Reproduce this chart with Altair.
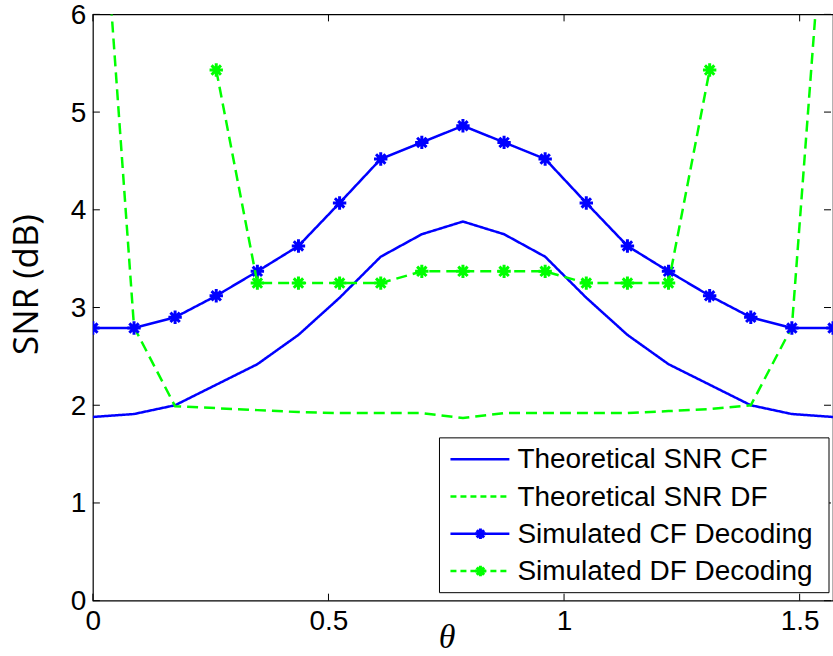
import altair as alt
import pandas as pd

# ---- data ----
theta = [0.0000, 0.0873, 0.1745, 0.2618, 0.3491, 0.4363, 0.5236, 0.6109, 0.6981, 0.7854,
         0.8727, 0.9599, 1.0472, 1.1345, 1.2217, 1.3090, 1.3963, 1.4835, 1.5708]

theory_cf = [1.88, 1.91, 2.00, 2.21, 2.42, 2.72, 3.10, 3.52, 3.75, 3.88,
             3.75, 3.52, 3.10, 2.72, 2.42, 2.21, 2.00, 1.91, 1.88]
theory_df = [8.70, 2.80, 1.99, 1.97, 1.95, 1.93, 1.92, 1.92, 1.92, 1.87,
             1.92, 1.92, 1.92, 1.92, 1.94, 1.96, 2.00, 2.80, 8.40]
sim_cf = [2.79, 2.79, 2.90, 3.12, 3.37, 3.63, 4.07, 4.52, 4.69, 4.86,
          4.69, 4.52, 4.07, 3.63, 3.37, 3.12, 2.90, 2.79, 2.79]
sim_df = [None, None, None, 5.43, 3.25, 3.25, 3.25, 3.25, 3.37, 3.37,
          3.37, 3.37, 3.25, 3.25, 3.25, 5.43, None, None, None]

series_names = ["Theoretical SNR CF", "Theoretical SNR DF",
                "Simulated CF Decoding", "Simulated DF Decoding"]
series_values = [theory_cf, theory_df, sim_cf, sim_df]
series_colors = ["#0000FF", "#00FF00", "#0000FF", "#00FF00"]
series_dash = [[1, 0], [11, 6], [1, 0], [11, 6]]
series_marker = [False, False, True, True]

x_ticks = [0, 0.5, 1, 1.5]
y_ticks = [0, 1, 2, 3, 4, 5, 6]

# ---- layout ----
W, H = 741, 587
FONT = "Liberation Sans"
ASTER = "M0,-1L0,1M-1,0L1,0M-0.7,-0.7L0.7,0.7M-0.7,0.7L0.7,-0.7"

rows = []
for name, vals in zip(series_names, series_values):
    for t, v in zip(theta, vals):
        if v is not None:
            rows.append({"series": name, "theta": t, "snr": v})
df = pd.DataFrame(rows)

xs = alt.Scale(domain=[0, 1.5708], nice=False, zero=False)
ys = alt.Scale(domain=[0, 6], nice=False, zero=False)

x_enc = alt.X("theta:Q", scale=xs,
              axis=alt.Axis(values=x_ticks, title="θ", format="~g",
                            titleFont="Liberation Serif", titleFontStyle="italic",
                            titleFontWeight="normal", titleFontSize=34,
                            titleX=354, titleY=37, titleBaseline="middle",
                            labelFlush=False))
y_enc = alt.Y("snr:Q", scale=ys,
              axis=alt.Axis(values=y_ticks, title="SNR (dB)", format="d",
                            titleFont="Open Sans", titleFontWeight="normal",
                            titleFontSize=35, titleX=-66, titleY=270,
                            titleBaseline="middle", titleAngle=-90,
                            labelOffset=1))

layers = []
for name, col, dash, mk in zip(series_names, series_colors, series_dash, series_marker):
    base = alt.Chart(df).transform_filter(alt.datum.series == name)
    layers.append(base.mark_line(clip=True, strokeWidth=2.5, color=col, strokeDash=dash)
                  .encode(x=x_enc, y=y_enc))
    if mk:
        layers.append(base.mark_point(clip=True, shape=ASTER, size=180, filled=False,
                                      strokeWidth=3, color=col, opacity=1)
                      .encode(x="theta:Q", y="snr:Q"))

# inward tick marks on all four sides
xt = pd.DataFrame({"theta": x_ticks})
yt = pd.DataFrame({"snr": y_ticks})
tick_len = 7
layers.append(alt.Chart(xt).mark_rule(color="black", strokeWidth=1)
              .encode(x="theta:Q", y=alt.value(H), y2=alt.value(H - tick_len)))
layers.append(alt.Chart(xt).mark_rule(color="black", strokeWidth=1)
              .encode(x="theta:Q", y=alt.value(0), y2=alt.value(tick_len)))
layers.append(alt.Chart(yt).mark_rule(color="black", strokeWidth=1)
              .encode(y="snr:Q", x=alt.value(0), x2=alt.value(tick_len)))
layers.append(alt.Chart(yt).mark_rule(color="black", strokeWidth=1)
              .encode(y="snr:Q", x=alt.value(W - 2), x2=alt.value(W - 2 - tick_len)))

# legend box
lx0, lx1, ly0, ly1 = 347, 737, 424, 579
layers.append(alt.Chart(pd.DataFrame({"a": [0]})).mark_rect(fill="white", stroke="black", strokeWidth=1)
              .encode(x=alt.value(lx0), x2=alt.value(lx1), y=alt.value(ly0), y2=alt.value(ly1)))
for i, (name, col, dash, mk) in enumerate(zip(series_names, series_colors, series_dash, series_marker)):
    yy = 445.5 + 37.3 * i
    ld = pd.DataFrame({"label": [name]})
    layers.append(alt.Chart(ld).mark_rule(color=col, strokeWidth=2.5, strokeDash=[6, 4] if dash != [1, 0] else [1, 0])
                  .encode(x=alt.value(358), x2=alt.value(417), y=alt.value(yy)))
    if mk:
        layers.append(alt.Chart(ld).mark_point(shape=ASTER, size=110, filled=False,
                                               strokeWidth=3, color=col, opacity=1)
                      .encode(x=alt.value(388), y=alt.value(yy)))
    layers.append(alt.Chart(ld).mark_text(align="left", baseline="middle", font=FONT,
                                          fontSize=28, color="black")
                  .encode(x=alt.value(425), y=alt.value(yy + 1), text="label:N"))

chart = alt.layer(*layers).properties(
    width=W, height=H,
    autosize=alt.AutoSizeParams(type="none"),
    padding={"left": 93, "top": 14, "right": 0, "bottom": 55},
    background="white",
).configure_view(stroke="black", strokeWidth=1.2).configure_axis(
    domain=False, ticks=False, tickSize=0, grid=False,
    labelFont=FONT, labelFontSize=28, labelColor="black", labelPadding=7,
    titleColor="black",
)

chart.save("out.html", embed_options={"renderer": "svg", "actions": False})
